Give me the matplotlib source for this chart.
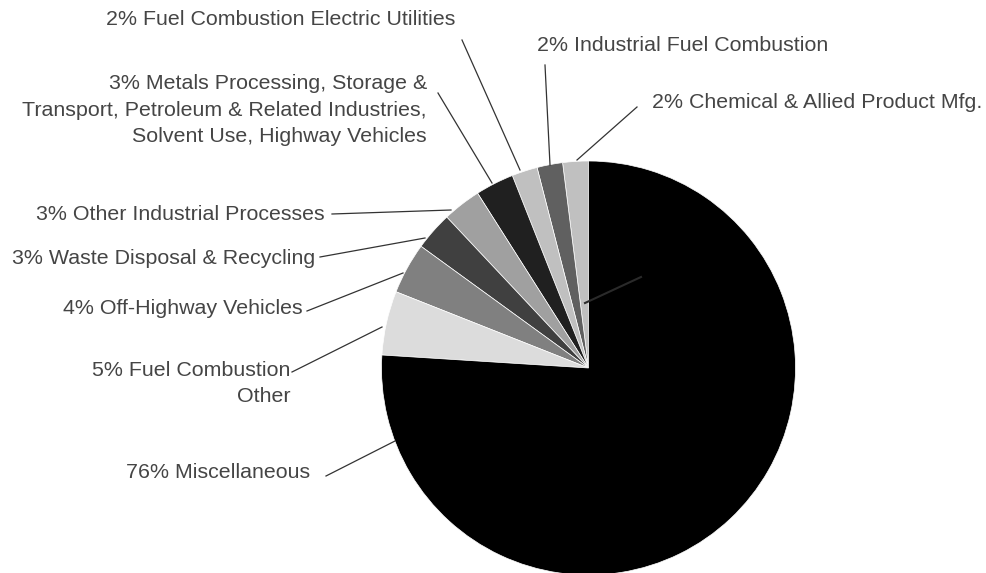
import matplotlib
matplotlib.use('Agg')
import matplotlib.pyplot as plt

# Emission source shares (%), drawn counterclockwise from 12 o'clock
sources = ['Chemical & Allied Product Mfg.',
           'Industrial Fuel Combustion',
           'Fuel Combustion Electric Utilities',
           'Metals Processing, Storage &\nTransport, Petroleum & Related Industries,\nSolvent Use, Highway Vehicles',
           'Other Industrial Processes',
           'Waste Disposal & Recycling',
           'Off-Highway Vehicles',
           'Fuel Combustion\nOther',
           'Miscellaneous']
shares = [2, 2, 2, 3, 3, 3, 4, 5, 76]
greys = ['#c0c0c0', '#606060', '#c0c0c0', '#202020', '#a0a0a0',
         '#404040', '#808080', '#dcdcdc', '#000000']

# label anchors (pixels): x, y, horizontal alignment
label_pos = [(652, 102, 'left'), (537, 45, 'left'), (455, 19, 'right'),
             (427, 110, 'right'), (325, 215, 'right'), (315, 258, 'right'),
             (303, 308, 'right'), (290, 383.5, 'right'), (310, 473, 'right')]
# leader lines: label end -> pie edge
leaders = [((637, 107), (577, 160)), ((545, 65), (550, 165)),
           ((462, 40), (520, 170)), ((438, 93), (492, 183)),
           ((332, 214), (451, 210)), ((320, 257), (425, 238)),
           ((307, 311), (403, 273)), ((292, 372), (382, 327)),
           ((326, 476), (395, 441))]

W, H = 987, 573
fig = plt.figure(figsize=(W/100, H/100), dpi=100)
ax = fig.add_axes([0, 0, 1, 1])

cx, cy, r = 588.5, 368, 207
ax.pie(shares, colors=greys, startangle=270, counterclock=False,
       center=(cx, cy), radius=r,
       wedgeprops=dict(edgecolor='white', linewidth=0.5))
ax.set_xlim(0, W)
ax.set_ylim(H, 0)
ax.set_aspect('equal')
ax.axis('off')

for name, val, (x, y, ha), (p0, p1) in zip(sources, shares, label_pos, leaders):
    ax.text(x, y, '%d%% %s' % (val, name), ha=ha, va='center',
            multialignment=ha, fontsize=15.4, family='Liberation Sans',
            color='#454545', linespacing=1.48)
    ax.plot([p0[0], p1[0]], [p0[1], p1[1]], color='#333333', lw=0.9)

# stray pointer inside the large slice
ax.plot([cx - 3.5, cx + 52.5], [cy - 65, cy - 91], color='#2a2a2a', lw=1.5)

fig.savefig('out.png', dpi=100)
